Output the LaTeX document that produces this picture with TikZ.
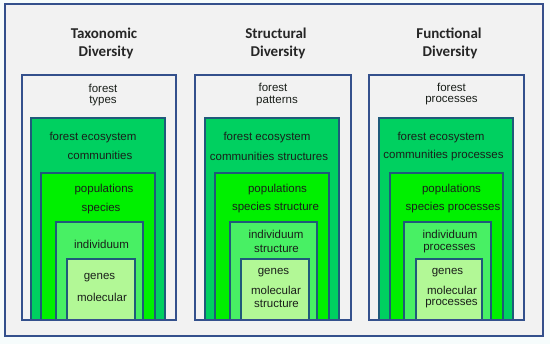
\documentclass[tikz,border=0pt]{standalone}
\usepackage{fontspec}
\setmainfont{Liberation Sans}
\newfontfamily\titlefont{Carlito}
\begin{document}
\begin{tikzpicture}[x=1pt,y=-1pt,
  frame/.style={draw=frameblue,line width=1.4pt,fill=panelgray},
  colbox/.style={draw=frameblue,line width=1.4pt},
  gbox/.style={draw=innerblue,line width=1.4pt},
  txt/.style={inner sep=0pt,font=\fontsize{11.5}{13}\selectfont,text=txtcol},
  ttl/.style={inner sep=0pt,font=\titlefont\bfseries\fontsize{15}{17}\selectfont,text=black!85}]
\definecolor{frameblue}{HTML}{34508C}
\definecolor{innerblue}{HTML}{1F5A7A}
\definecolor{panelgray}{HTML}{F2F2F2}
\definecolor{bgc}{HTML}{F6FCFC}
\definecolor{gA}{HTML}{00D060}
\definecolor{gB}{HTML}{00F000}
\definecolor{gC}{HTML}{48F064}
\definecolor{gD}{HTML}{B2F896}
\definecolor{txtcol}{HTML}{1A1F1A}
\fill[bgc] (0,0) rectangle (550,344);
\useasboundingbox (0,0) rectangle (550,344);
\draw[frame] (5,4) rectangle (543,336);
% column 1
\fill[panelgray] (22,75) rectangle (176,320);
\filldraw[gbox,fill=gA] (31,118) rectangle (165,320);
\filldraw[gbox,fill=gB] (41,173) rectangle (155,320);
\filldraw[gbox,fill=gC] (56,222) rectangle (143,320);
\filldraw[gbox,fill=gD] (67,259) rectangle (135,320);
\draw[colbox] (22,75) rectangle (176,320);
% column 2
\fill[panelgray] (195,75) rectangle (351,320);
\filldraw[gbox,fill=gA] (205,118) rectangle (339,320);
\filldraw[gbox,fill=gB] (215,173) rectangle (329,320);
\filldraw[gbox,fill=gC] (230,222) rectangle (317,320);
\filldraw[gbox,fill=gD] (241,259) rectangle (309,320);
\draw[colbox] (195,75) rectangle (351,320);
% column 3
\fill[panelgray] (369,75) rectangle (524,320);
\filldraw[gbox,fill=gA] (379,118) rectangle (513,320);
\filldraw[gbox,fill=gB] (390,173) rectangle (503,320);
\filldraw[gbox,fill=gC] (404,222) rectangle (491,320);
\filldraw[gbox,fill=gD] (416,259) rectangle (482,320);
\draw[colbox] (369,75) rectangle (524,320);
% titles
\node[ttl] (t1a) at (104,33) {Taxonomic};
\node[ttl] (t1b) at (106,52) {Diversity};
\node[ttl] (t2a) at (276,33) {Structural};
\node[ttl] (t2b) at (278,52) {Diversity};
\node[ttl] (t3a) at (449,33) {Functional};
\node[ttl] (t3b) at (450,52) {Diversity};
% column 1 texts
\node[txt] (a1) at (103,88) {forest};
\node[txt] (a2) at (103,101) {types};
\node[txt] (a3) at (93,138) {forest ecosystem};
\node[txt] (a4) at (100,155) {communities};
\node[txt] (a5) at (104,190) {populations};
\node[txt] (a6) at (101,209) {species};
\node[txt] (a7) at (101.5,244) {individuum};
\node[txt] (a8) at (99.5,278) {genes};
\node[txt] (a9) at (102,297) {molecular};
% column 2 texts
\node[txt] (b1) at (273,87) {forest};
\node[txt] (b2) at (277,101) {patterns};
\node[txt] (b3) at (267,138) {forest ecosystem};
\node[txt] (b4) at (269,156) {communities structures};
\node[txt] (b5) at (277.5,190) {populations};
\node[txt] (b6) at (275.5,208) {species structure};
\node[txt] (b7) at (276,234) {individuum};
\node[txt] (b8) at (276.5,249) {structure};
\node[txt] (b9) at (273.5,273) {genes};
\node[txt] (b10) at (276,290) {molecular};
\node[txt] (b11) at (276.5,304) {structure};
% column 3 texts
\node[txt] (c1) at (451.5,87) {forest};
\node[txt] (c2) at (451.5,101) {processes};
\node[txt] (c3) at (441,138) {forest ecosystem};
\node[txt] (c4) at (443.5,156) {communities processes};
\node[txt] (c5) at (451.5,190) {populations};
\node[txt] (c6) at (453,208) {species processes};
\node[txt] (c7) at (450,234) {individuum};
\node[txt] (c8) at (449.5,249) {processes};
\node[txt] (c9) at (447.5,273) {genes};
\node[txt] (c10) at (452,290) {molecular};
\node[txt] (c11) at (451.5,304) {processes};
\end{tikzpicture}
\end{document}
